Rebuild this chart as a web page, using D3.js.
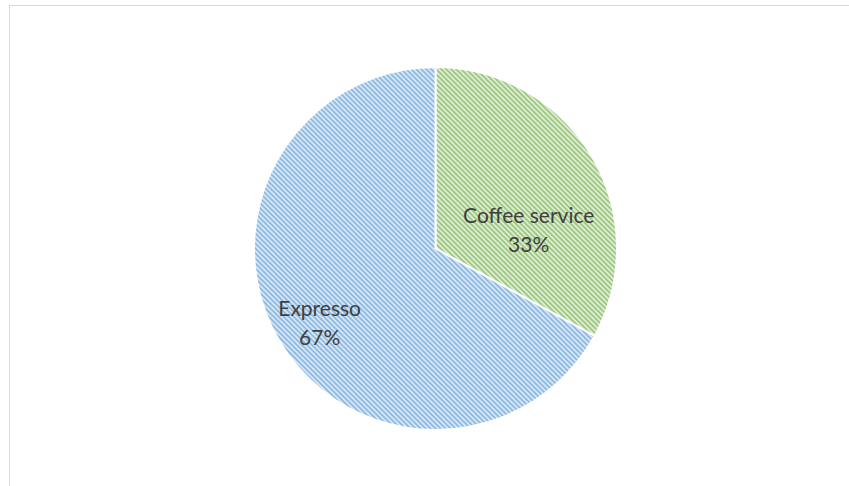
<!DOCTYPE html>
<html>
<head>
<meta charset="utf-8">
<script src="https://cdn.jsdelivr.net/npm/d3@7"></script>
<style>
  html, body { margin: 0; padding: 0; background: #fff; }
  svg { display: block; }
</style>
</head>
<body>
<div id="chart"></div>
<script>
// data
const categories = ["Coffee service", "Expresso"];
const shares = [33, 67];
const pctLabels = ["33%", "67%"];

const fg = ["#70AD47", "#5B9BD5"];
const bg = ["#EDF6E7", "#E8F1FA"];

const width = 849, height = 486;
const cx = 435.5, cy = 248.5, radius = 181.5;

const svg = d3.select("#chart").append("svg")
  .attr("width", width)
  .attr("height", height);

// chart area border (runs off the right/bottom edge)
svg.append("rect")
  .attr("x", 9.5).attr("y", 5.5)
  .attr("width", 900).attr("height", 600)
  .attr("fill", "#fff")
  .attr("stroke", "#d9d9d9")
  .attr("stroke-width", 1);

// hatch patterns
const T = 5;
const defs = svg.append("defs");
categories.forEach((c, i) => {
  const p = defs.append("pattern")
    .attr("id", "hatch" + i)
    .attr("patternUnits", "userSpaceOnUse")
    .attr("width", T).attr("height", T);
  p.append("rect").attr("width", T).attr("height", T).attr("fill", bg[i]);
  p.append("path")
    .attr("d", `M-1,-1L${T + 1},${T + 1}M-1,${T - 1}L1,${T + 1}M${T - 1},-1L${T + 1},1`)
    .attr("stroke", fg[i])
    .attr("stroke-width", 1.6)
    .attr("stroke-opacity", 0.8);
});

const pie = d3.pie().sort(null).value(d => d)(shares);
const arc = d3.arc().innerRadius(0).outerRadius(radius);

const g = svg.append("g").attr("transform", `translate(${cx},${cy})`);

g.selectAll("path.slice")
  .data(pie)
  .join("path")
  .attr("class", "slice")
  .attr("d", arc)
  .attr("fill", (d, i) => `url(#hatch${i})`)
  .attr("stroke", "#fff")
  .attr("stroke-width", 2);

// Excel "best fit" placement: angle (deg from top) and fraction of radius
const labelPolar = [[81, 0.52], [236, 0.77]];

const labels = g.selectAll("text.lbl")
  .data(pie)
  .join("text")
  .attr("class", "lbl")
  .attr("transform", (d, i) => {
    const a = labelPolar[i][0] * Math.PI / 180;
    const r = labelPolar[i][1] * radius;
    return `translate(${r * Math.sin(a)},${-r * Math.cos(a)})`;
  })
  .attr("text-anchor", "middle")
  .attr("font-family", "Lato, 'Liberation Sans', sans-serif")
  .attr("font-size", 21)
  .attr("fill", "#404040");

labels.append("tspan")
  .attr("x", 0).attr("dy", "-0.5em")
  .text((d, i) => categories[i]);
labels.append("tspan")
  .attr("x", 0).attr("dy", "1.36em")
  .text((d, i) => pctLabels[i]);
</script>
</body>
</html>
